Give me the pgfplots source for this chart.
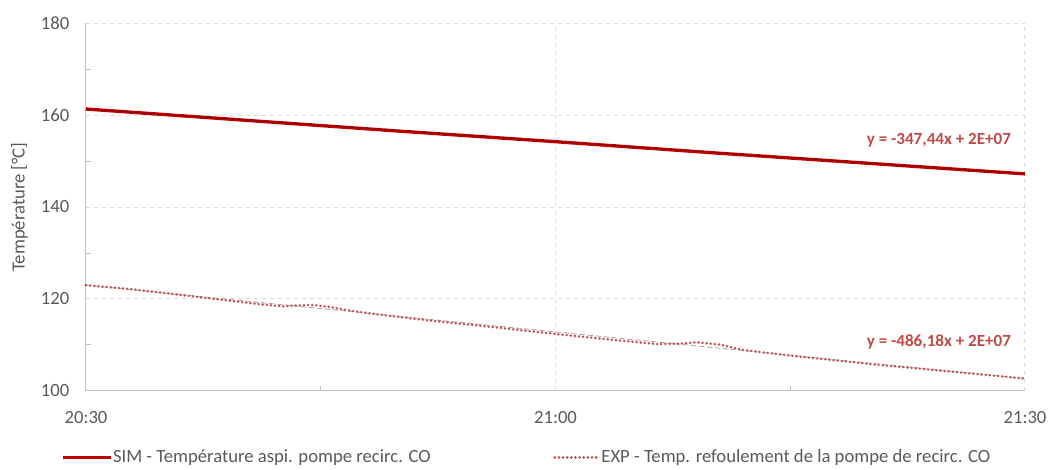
\documentclass[border=0pt]{standalone}
\usepackage{fontspec}
\setmainfont{Carlito}
\usepackage{pgfplots}
\pgfplotsset{compat=1.18}

\definecolor{simred}{HTML}{C00000}
\definecolor{expred}{HTML}{C0504D}
\definecolor{eqred}{HTML}{BE4B48}
\definecolor{txtgray}{HTML}{595959}
\definecolor{gridgray}{HTML}{D9D9D9}
\definecolor{axgray}{HTML}{BFBFBF}

% time in minutes after 20:30
\pgfplotstableread{
t T
0 161.3
10 158.9
20 156.5
30 154.2
40 151.8
50 149.5
60 147.2
}\simdata

\pgfplotstableread{
t T
0 123.0
3 122.1
6 120.9
9 119.7
11 118.9
12.5 118.4
13.5 118.6
14.5 118.7
15.5 118.3
17 117.4
19 116.5
22 115.3
26 113.9
30 112.4
34 111.0
36.5 110.2
38 110.3
39 110.6
40.5 110.1
42 108.9
45 107.7
50 105.9
55 104.3
60 102.7
}\expdata

\begin{document}
\begin{tikzpicture}
\path[use as bounding box] (-64.5pt,-59.25pt) rectangle (723pt,293.25pt);
\begin{axis}[
    scale only axis,
    width=704.25pt,
    height=276pt,
    xmin=0, xmax=60,
    ymin=100, ymax=180,
    xtick={0,30,60},
    xticklabels={20:30,21:00,21:30},
    minor xtick={15,45},
    ytick={100,120,140,160,180},
    minor ytick={110,130,150,170},
    axis x line*=bottom,
    axis y line*=left,
    axis line style={axgray, line width=0.75pt, -},
    major tick length=0pt,
    minor tick length=3.5pt,
    tick align=inside,
    tick style={axgray, line width=0.75pt},
    xmajorgrids, ymajorgrids,
    major grid style={gridgray, dashed, line width=0.75pt},
    ticklabel style={font=\fontsize{14}{16}\selectfont, text=txtgray},
    /pgf/number format/assume math mode=true,
    yticklabel style={xshift=-9pt},
    xticklabel style={yshift=-12pt},
    ylabel={Température [°C]},
    ylabel style={font=\fontsize{14}{16}\selectfont, text=txtgray},
    ylabel shift=3pt,
    legend columns=2,
    legend style={
        at={(axis description cs:0.47,-0.18)}, anchor=center,
        draw=none, fill=none,
        font=\fontsize{14}{16}\selectfont,
        text=txtgray,
        /tikz/every even column/.append style={column sep=90pt},
        /tikz/every odd column/.append style={column sep=-2pt},
    },
    legend cell align=left,
    clip=false,
]
\addplot[simred, line width=2.5pt,
    legend image code/.code={\draw[simred, line width=2.5pt] (0pt,0pt) -- (36pt,0pt);}]
    table[x=t, y=T] {\simdata};
\addlegendentry{SIM - Température aspi. pompe recirc. CO}
\addplot[expred, line width=2pt, line cap=round, dash pattern=on 0.1pt off 3pt,
    legend image code/.code={\draw[expred, line width=2pt, line cap=round, dash pattern=on 0.1pt off 3pt] (0pt,0pt) -- (34pt,0pt);}]
    table[x=t, y=T] {\expdata};
\addlegendentry{EXP - Temp. refoulement de la pompe de recirc. CO}
% linear trend lines
\addplot[forget plot, simred!55!black, line width=0.6pt, dash pattern=on 4pt off 2pt]
    coordinates {(0,161.3) (60,147.2)};
\addplot[forget plot, gray!70!expred, line width=0.6pt, dash pattern=on 4pt off 2pt, opacity=0.7]
    coordinates {(0,123.0) (60,102.7)};
\node[anchor=east, text=eqred, font=\fontsize{12.8}{14}\selectfont\bfseries] at (axis cs:59.4,154.6) {y = -347,44x + 2E+07};
\node[anchor=east, text=eqred, font=\fontsize{12.8}{14}\selectfont\bfseries] at (axis cs:59.4,110.7) {y = -486,18x + 2E+07};
\end{axis}
\end{tikzpicture}
\end{document}
